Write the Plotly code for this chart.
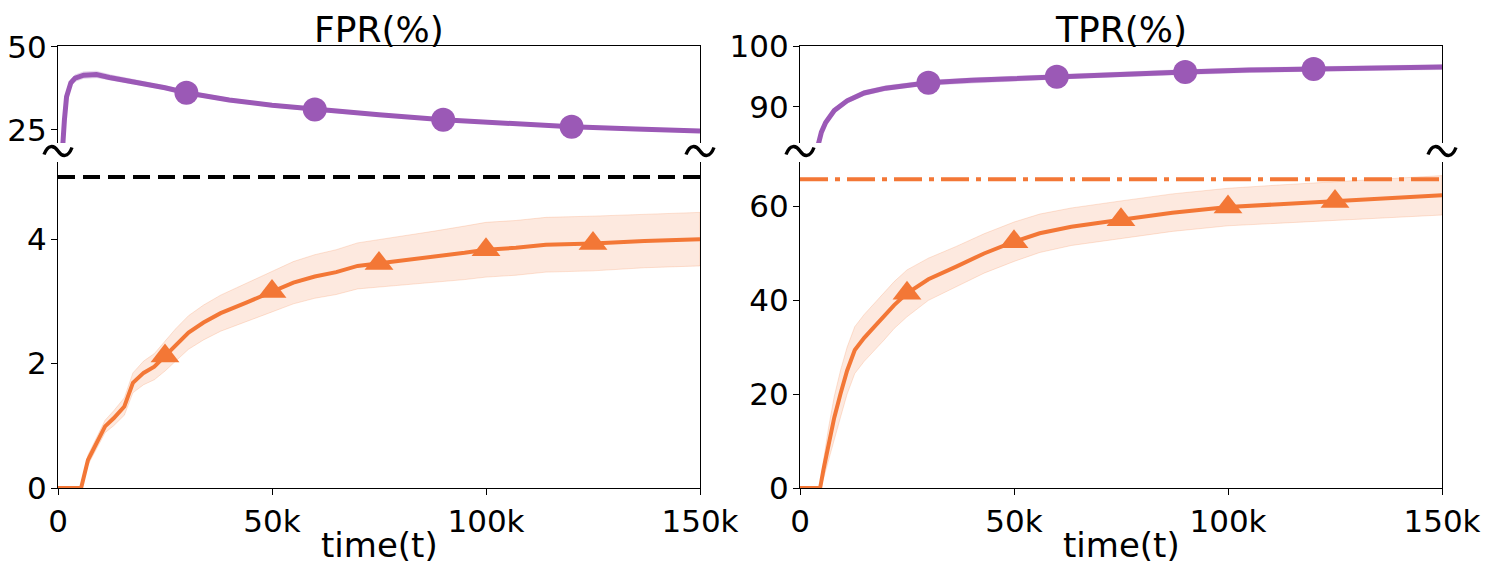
import plotly.graph_objects as go

# FPR(%) - top panel (purple) and bottom panel (orange)
fpr_top_t = [500, 1000, 1500, 2000, 3000, 4000, 6000, 9000, 12000, 16000, 20000, 25000,
             30000, 40000, 50000, 60000, 75000, 90000, 105000, 120000, 135000, 150000]
fpr_top = [12, 18, 28, 35, 39.2, 40.6, 41.5, 41.7, 40.8, 39.9, 39.0, 37.7,
           36.2, 34.0, 32.4, 31.1, 29.5, 28.0, 26.9, 25.9, 25.2, 24.6]
fpr_top_err = [1.0, 1.0, 1.0, 1.0, 1.0, 1.0, 1.0, 1.0, 0.9, 0.8, 0.7, 0.6,
               0.6, 0.5, 0.5, 0.5, 0.4, 0.4, 0.4, 0.4, 0.4, 0.4]

fpr_bot_t = [0, 5000, 5400, 7000, 9000, 11000, 13000, 15500, 17500, 20000, 22500, 25000,
             27500, 30500, 34000, 38000, 44000, 50000, 55000, 60000, 65000, 70000, 75000,
             80000, 88000, 95000, 100000, 107000, 114000, 125000, 137000, 150000]
fpr_bot = [0, 0, 0, 0.45, 0.72, 0.99, 1.12, 1.31, 1.69, 1.85, 1.95, 2.12,
           2.30, 2.50, 2.66, 2.81, 2.98, 3.16, 3.30, 3.40, 3.47, 3.57, 3.61,
           3.66, 3.72, 3.78, 3.83, 3.86, 3.91, 3.93, 3.97, 4.00]
fpr_bot_err = [0, 0, 0, 0.08, 0.09, 0.10, 0.12, 0.14, 0.16, 0.19, 0.21, 0.24,
               0.26, 0.27, 0.28, 0.29, 0.31, 0.33, 0.34, 0.35, 0.36, 0.37, 0.38,
               0.39, 0.41, 0.43, 0.44, 0.44, 0.44, 0.44, 0.43, 0.43]
fpr_baseline = 5.0

# TPR(%)
tpr_top_t = [4000, 5000, 6000, 8000, 11000, 15000, 20000, 25000, 30000, 40000, 50000,
             60000, 75000, 90000, 105000, 120000, 135000, 150000]
tpr_top = [83.0, 85.8, 87.4, 89.4, 91.0, 92.3, 93.1, 93.6, 94.0, 94.4, 94.7,
           95.0, 95.4, 95.8, 96.1, 96.3, 96.5, 96.6]
tpr_top_err = [0.4] * len(tpr_top)

tpr_bot_t = [0, 4700, 5500, 6700, 8000, 9500, 11000, 12800, 15000, 17500, 19600, 22000,
             25000, 30000, 36500, 43000, 50000, 56000, 63400, 69000, 75000, 87000,
             100000, 112000, 125000, 137000, 150000]
tpr_bot = [0, 0, 4, 9.5, 15, 20.2, 25, 29.4, 32, 34.5, 36.5, 39,
           41.5, 44.5, 47.2, 50, 52.5, 54.3, 55.7, 56.5, 57.2, 58.7,
           59.9, 60.5, 61.1, 61.8, 62.4]
tpr_bot_err = [0, 0, 2, 3.5, 4.5, 5, 5, 5, 5, 5, 5, 5,
               5, 4.5, 4.3, 4.2, 4.2, 4.1, 4.0, 4.0, 4.0, 4.0,
               4.0, 4.1, 4.2, 4.2, 4.2]
tpr_baseline = 65.8

circle_t = [30000, 60000, 90000, 120000]
triangle_t = [25000, 50000, 75000, 100000, 125000]

x_ticks = [0, 50000, 100000, 150000]
x_ticktext = ['0', '50k', '100k', '150k']

PURPLE = '#9B59B6'
ORANGE = '#F37736'
FONT = 'DejaVu Sans'
W, H = 1489, 575
OFF = 8  # page body margin in the browser


def px_x(p):
    return (p - OFF) / W


def px_y(p):
    return 1 - (p - OFF) / H


fig = go.Figure()


def band(t, y, err, color_fill, color_edge, xa, ya):
    upper = [a + b for a, b in zip(y, err)]
    lower = [a - b for a, b in zip(y, err)]
    fig.add_trace(go.Scatter(x=t + t[::-1], y=upper + lower[::-1], fill='toself',
                             fillcolor=color_fill, line=dict(color=color_edge, width=1),
                             mode='lines', xaxis=xa, yaxis=ya, hoverinfo='skip'))


def curve(t, y, color, width, xa, ya, mark_t, symbol, size):
    fig.add_trace(go.Scatter(x=t, y=y, mode='lines', line=dict(color=color, width=width),
                             xaxis=xa, yaxis=ya))
    lookup = dict(zip(t, y))
    fig.add_trace(go.Scatter(x=mark_t, y=[lookup[m] for m in mark_t], mode='markers',
                             marker=dict(symbol=symbol, size=size, color=color),
                             xaxis=xa, yaxis=ya, cliponaxis=False))


# left column: FPR
band(fpr_top_t, fpr_top, fpr_top_err, 'rgba(155,89,182,0.2)', 'rgba(155,89,182,0.15)', 'x2', 'y2')
curve(fpr_top_t, fpr_top, PURPLE, 5, 'x2', 'y2', circle_t, 'circle', 24)
band(fpr_bot_t, fpr_bot, fpr_bot_err, 'rgba(243,119,54,0.16)', 'rgba(243,119,54,0.2)', 'x', 'y')
curve(fpr_bot_t, fpr_bot, ORANGE, 4, 'x', 'y', triangle_t, 'triangle-up', 25)
fig.add_trace(go.Scatter(x=[0, 150000], y=[fpr_baseline] * 2, mode='lines',
                         line=dict(color='black', width=4, dash='17px,8px'),
                         xaxis='x', yaxis='y'))

# right column: TPR
band(tpr_top_t, tpr_top, tpr_top_err, 'rgba(155,89,182,0.2)', 'rgba(155,89,182,0.15)', 'x4', 'y4')
curve(tpr_top_t, tpr_top, PURPLE, 5, 'x4', 'y4', circle_t, 'circle', 24)
band(tpr_bot_t, tpr_bot, tpr_bot_err, 'rgba(243,119,54,0.16)', 'rgba(243,119,54,0.2)', 'x3', 'y3')
curve(tpr_bot_t, tpr_bot, ORANGE, 4, 'x3', 'y3', triangle_t, 'triangle-up', 25)
fig.add_trace(go.Scatter(x=[0, 150000], y=[tpr_baseline] * 2, mode='lines',
                         line=dict(color=ORANGE, width=4, dash='28px,7px,5px,7px'),
                         xaxis='x3', yaxis='y3'))

left_dom = [px_x(58), px_x(700)]
right_dom = [px_x(800), px_x(1442)]
top_dom = [px_y(143), px_y(46)]
bot_dom = [px_y(488), px_y(162)]

tick_font = dict(family=FONT, size=31, color='black')
bottom_x = dict(range=[0, 150000], tickvals=x_ticks, ticktext=x_ticktext, showline=True,
                linecolor='black', linewidth=1.2, ticks='outside', ticklen=6, tickcolor='black',
                tickfont=tick_font, showgrid=False, zeroline=False, automargin=False)
top_x = dict(range=[0, 150000], side='top', showline=True, linecolor='black', linewidth=1.2,
             showticklabels=False, ticks='', showgrid=False, zeroline=False, automargin=False)
y_common = dict(showline=True, mirror=True, linecolor='black', linewidth=1.2, ticks='outside',
                ticklen=6, tickcolor='black', tickfont=tick_font, showgrid=False,
                zeroline=False, automargin=False, ticklabelstandoff=-2)

fig.update_layout(
    width=W, height=H, margin=dict(l=0, r=0, t=0, b=0), showlegend=False,
    plot_bgcolor='white', paper_bgcolor='white', font=dict(family=FONT),
    xaxis=dict(domain=left_dom, anchor='y', **bottom_x),
    yaxis=dict(domain=bot_dom, anchor='x', range=[0, 5.24], tickvals=[0, 2, 4], **y_common),
    xaxis2=dict(domain=left_dom, anchor='y2', **top_x),
    yaxis2=dict(domain=top_dom, anchor='x2', range=[21, 50.3], tickvals=[25, 50], **y_common),
    xaxis3=dict(domain=right_dom, anchor='y3', **bottom_x),
    yaxis3=dict(domain=bot_dom, anchor='x3', range=[0, 69.5], tickvals=[0, 20, 40, 60],
                **y_common),
    xaxis4=dict(domain=right_dom, anchor='y4', **top_x),
    yaxis4=dict(domain=top_dom, anchor='x4', range=[84, 100.1], tickvals=[90, 100], **y_common),
)

# panel titles and x labels
for cx, title in [(px_x((58 + 700) / 2), 'FPR(%)'), (px_x((800 + 1442) / 2), 'TPR(%)')]:
    fig.add_annotation(x=cx, y=px_y(30), xref='paper', yref='paper', text=title,
                       showarrow=False, font=dict(family=FONT, size=36, color='black'),
                       xanchor='center', yanchor='middle')
    fig.add_annotation(x=cx, y=px_y(545), xref='paper', yref='paper', text='time(t)',
                       showarrow=False, font=dict(family=FONT, size=34, color='black'),
                       xanchor='center', yanchor='middle')


# axis break marks, drawn as a small wavy path on each spine
def tilde_path(cx, cy):
    pts = [(-14, 3.5), (-10, -7), (-4, -6), (0, 0), (4, 6), (10, 7), (14, -3.5)]
    p = [(px_x(cx + dx), px_y(cy + dy)) for dx, dy in pts]
    return (f'M {p[0][0]},{p[0][1]} C {p[1][0]},{p[1][1]} {p[2][0]},{p[2][1]} {p[3][0]},{p[3][1]} '
            f'C {p[4][0]},{p[4][1]} {p[5][0]},{p[5][1]} {p[6][0]},{p[6][1]}')


for bx in [58, 700, 800, 1442]:
    fig.add_shape(type='path', path=tilde_path(bx, 151), xref='paper', yref='paper',
                  line=dict(color='black', width=3.4))

fig.write_html("out.html")
